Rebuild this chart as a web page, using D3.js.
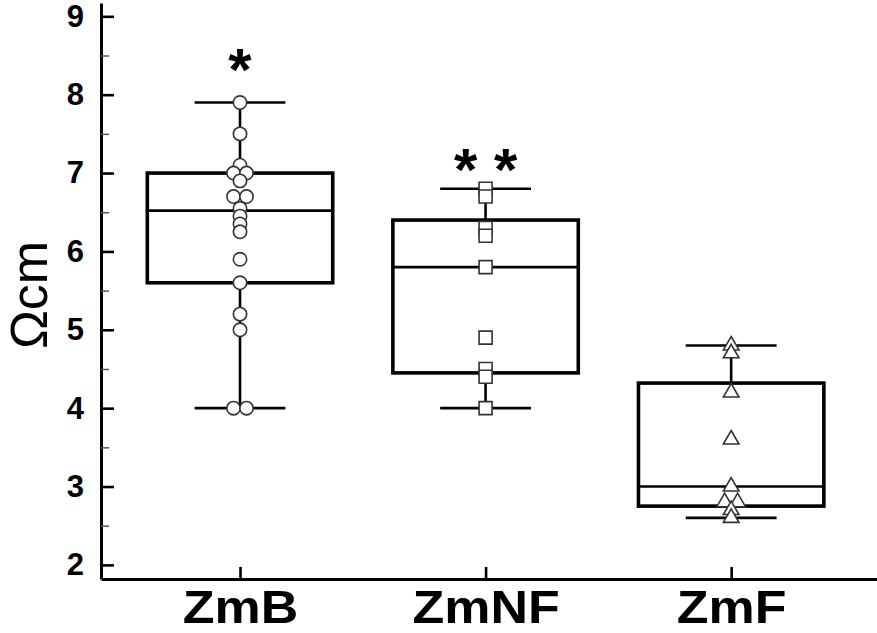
<!DOCTYPE html>
<html>
<head>
<meta charset="utf-8">
<script src="https://cdn.jsdelivr.net/npm/d3@7"></script>
<style>
  body { margin: 0; background: #fff; }
  svg { display: block; }
</style>
</head>
<body>
<script>
// groups on the x axis
var categories = ["ZmB", "ZmNF", "ZmF"];

var zmB = [7.9, 7.5, 7.1, 7.0, 7.0, 6.9, 6.7, 6.7, 6.55, 6.45, 6.35, 6.25, 5.9, 5.6, 5.2, 5.0, 4.0, 4.0];
var zmNF = [6.8, 6.7, 6.3, 6.2, 5.8, 4.9, 4.5, 4.4, 4.0];
var zmF = [4.8, 4.7, 4.2, 3.6, 3.0, 2.8, 2.8, 2.7, 2.6];

// box summaries: whisker low, q1, median, q3, whisker high
var whiskerLow = [4.0, 4.0, 2.6];
var q1 = [5.6, 4.45, 2.75];
var medians = [6.52, 5.8, 3.0];
var q3 = [7.0, 6.4, 4.32];
var whiskerHigh = [7.9, 6.8, 4.8];

// significance marks and the value they sit at
var marks = ["*", "* *", ""];
var markAt = [8.5, 7.22, null];

var yTicks = [2, 3, 4, 5, 6, 7, 8, 9];
var yMinorTicks = [2.5, 3.5, 4.5, 5.5, 6.5, 7.5, 8.5];

var W = 877, H = 633;
var plotLeft = 101, plotTop = 3, plotBottom = 579;

var series = [zmB, zmNF, zmF];
var shapes = [d3.symbolCircle, d3.symbolSquare, d3.symbolTriangle];
var shapeSize = [140, 169, 105];

var svg = d3.select("body").append("svg")
  .attr("width", W)
  .attr("height", H);

var x = d3.scalePoint()
  .domain(categories)
  .range([plotLeft, W])
  .padding(0.58)
  .align(0.488);

var y = d3.scaleLinear()
  .domain([1.82, 9.17])
  .range([plotBottom, plotTop]);

var boxW = x.step() * 0.755;
var capW = x.step() * 0.37;

// boxes
var g = svg.selectAll(".box").data(categories)
  .enter().append("g")
  .attr("class", "box");

// whiskers
g.append("line")
  .attr("x1", function(d) { return x(d); })
  .attr("x2", function(d) { return x(d); })
  .attr("y1", function(d, i) { return y(whiskerHigh[i]); })
  .attr("y2", function(d, i) { return y(q3[i]); })
  .attr("stroke", "#000").attr("stroke-width", 2.6);
g.append("line")
  .attr("x1", function(d) { return x(d); })
  .attr("x2", function(d) { return x(d); })
  .attr("y1", function(d, i) { return y(q1[i]); })
  .attr("y2", function(d, i) { return y(whiskerLow[i]); })
  .attr("stroke", "#000").attr("stroke-width", 2.6);

// caps
[whiskerHigh, whiskerLow].forEach(function(arr) {
  g.append("line")
    .attr("x1", function(d) { return x(d) - capW / 2; })
    .attr("x2", function(d) { return x(d) + capW / 2; })
    .attr("y1", function(d, i) { return y(arr[i]); })
    .attr("y2", function(d, i) { return y(arr[i]); })
    .attr("stroke", "#000").attr("stroke-width", 2.6);
});

g.append("rect")
  .attr("x", function(d) { return x(d) - boxW / 2; })
  .attr("y", function(d, i) { return y(q3[i]); })
  .attr("width", boxW)
  .attr("height", function(d, i) { return y(q1[i]) - y(q3[i]); })
  .attr("fill", "none")
  .attr("stroke", "#000")
  .attr("stroke-width", 3.6);

g.append("line")
  .attr("x1", function(d) { return x(d) - boxW / 2; })
  .attr("x2", function(d) { return x(d) + boxW / 2; })
  .attr("y1", function(d, i) { return y(medians[i]); })
  .attr("y2", function(d, i) { return y(medians[i]); })
  .attr("stroke", "#000").attr("stroke-width", 2.6);

// points: equal values are set side by side
function dodge(values) {
  var counts = {}, seen = {};
  values.forEach(function(v) { counts[v] = (counts[v] || 0) + 1; });
  return values.map(function(v) {
    var k = seen[v] || 0;
    seen[v] = k + 1;
    return { value: v, slot: k - (counts[v] - 1) / 2 };
  });
}

series.forEach(function(values, i) {
  svg.append("g").selectAll("path")
    .data(dodge(values))
    .enter().append("path")
    .attr("d", d3.symbol().type(shapes[i]).size(shapeSize[i]))
    .attr("transform", function(d) {
      return "translate(" + (x(categories[i]) + d.slot * 13) + "," + y(d.value) + ")";
    })
    .attr("fill", "#fff")
    .attr("stroke", "#333")
    .attr("stroke-width", 1.6);
});

// significance marks
svg.selectAll(".mark").data(categories)
  .enter().append("text")
  .attr("class", "mark")
  .attr("x", function(d) { return x(d); })
  .attr("y", function(d, i) { return markAt[i] == null ? 0 : y(markAt[i]) + 34; })
  .attr("text-anchor", "middle")
  .attr("font-family", "Liberation Sans, Arial, sans-serif")
  .attr("font-weight", "bold")
  .attr("font-size", "60px")
  .style("white-space", "pre")
  .text(function(d, i) { return marks[i]; });

// y axis
var yAxis = svg.append("g")
  .attr("transform", "translate(" + plotLeft + ",0)")
  .call(d3.axisLeft(y).tickValues(yTicks).tickSizeInner(-13).tickSizeOuter(0).tickPadding(17));
yAxis.select(".domain").attr("stroke-width", 3);
yAxis.selectAll(".tick line").attr("stroke-width", 2.6);
yAxis.selectAll(".tick text")
  .attr("font-family", "Liberation Sans, Arial, sans-serif")
  .attr("font-weight", "bold")
  .attr("font-size", "31px")
  .attr("fill", "#000");

svg.append("g")
  .attr("transform", "translate(" + plotLeft + ",0)")
  .call(d3.axisLeft(y).tickValues(yMinorTicks).tickSizeInner(-8).tickSizeOuter(0).tickFormat(""))
  .call(function(s) { s.select(".domain").remove(); })
  .selectAll(".tick line").attr("stroke", "#555").attr("stroke-width", 1.5);

// x axis
var xAxis = svg.append("g")
  .attr("transform", "translate(0," + plotBottom + ")")
  .call(d3.axisBottom(x).tickSizeInner(-12).tickSizeOuter(0).tickPadding(11));
xAxis.select(".domain").attr("stroke-width", 3);
xAxis.selectAll(".tick line").attr("stroke-width", 2.6);
xAxis.selectAll(".tick text")
  .attr("font-family", "Liberation Sans, Arial, sans-serif")
  .attr("font-weight", "bold")
  .attr("font-size", "46px")
  .attr("fill", "#000")
  .attr("transform", "scale(1.13,1)");

// y label
svg.append("text")
  .attr("transform", "translate(47,295) rotate(-90)")
  .attr("text-anchor", "middle")
  .attr("font-family", "Liberation Sans, Arial, sans-serif")
  .attr("font-size", "52px")
  .text("Ωcm");
</script>
</body>
</html>
